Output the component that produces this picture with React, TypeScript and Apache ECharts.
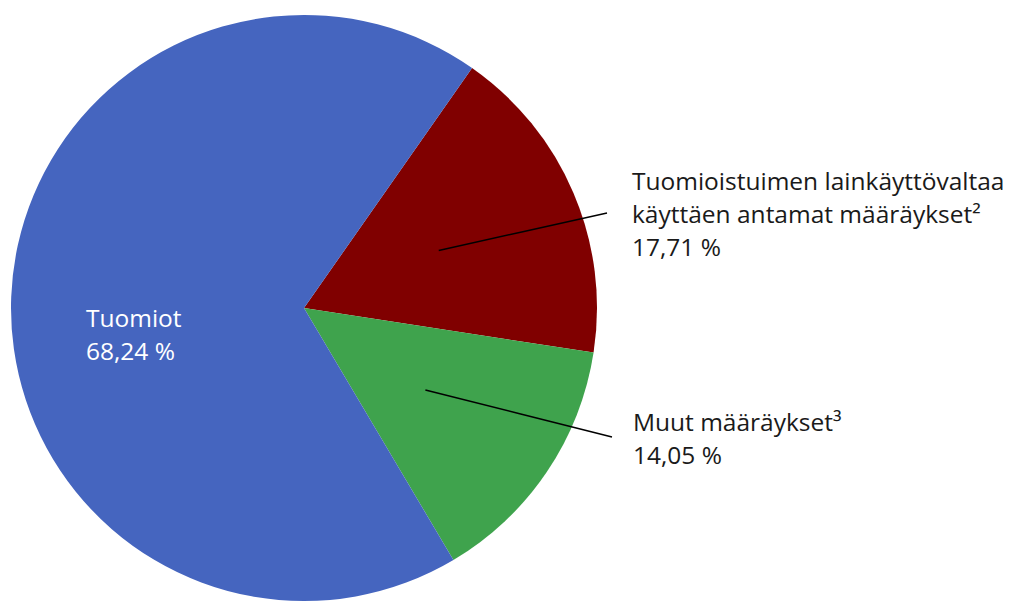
import React, { useEffect, useRef } from "react";
import * as echarts from "echarts";

const categories = [
  "Tuomioistuimen lainkäyttövaltaa\nkäyttäen antamat määräykset²",
  "Muut määräykset³",
  "Tuomiot",
];
const values = [17.71, 14.05, 68.24];
const colors = ["#800000", "#3FA34D", "#4565BF"];

const CX = 304;
const CY = 308;
const R = 293;
const START = 55;

export default function App() {
  const ref = useRef<HTMLDivElement>(null);
  useEffect(() => {
    document.body.style.margin = "0";
    const chart = echarts.init(ref.current!, null, { renderer: "svg" });
    const total = values.reduce((a, b) => a + b, 0);
    const mids: number[] = [];
    let acc = START;
    values.forEach((v) => {
      const span = (v / total) * 360;
      mids.push(acc - span / 2);
      acc -= span;
    });
    const anchors = [
      { x: 632, y: 213, end: [607, 213] },
      { x: 633, y: 438, end: [612, 437] },
      { x: 86, y: 334, end: null as any },
    ];
    const base = {
      type: "pie",
      center: [CX, CY],
      radius: R,
      startAngle: START,
      clockwise: true,
      silent: true,
    };
    chart.setOption({
      animation: false,
      series: [
        {
          ...base,
          z: 1,
          label: { show: false },
          labelLine: { show: false },
          data: categories.map((c, i) => ({
            name: c,
            value: values[i],
            itemStyle: { color: colors[i] },
          })),
        },
        {
          ...base,
          z: 5,
          data: categories.map((c, i) => ({
            name: c,
            value: values[i],
            itemStyle: { color: "rgba(0,0,0,0)" },
            label: {
              show: true,
              position: i === 2 ? "inside" : "outside",
              color: i === 2 ? "#ffffff" : "#1a1a1a",
            },
            labelLine: { show: i !== 2, lineStyle: { color: "#000", width: 1.5 } },
          })),
          label: {
            fontFamily: "Open Sans",
            fontSize: 24.5,
            lineHeight: 33,
            formatter: (p: any) =>
              p.name + "\n" + p.value.toFixed(2).replace(".", ",") + " %",
          },
          labelLayout: (p: any) => {
            const a = anchors[p.dataIndex];
            const res: any = { x: a.x, y: a.y, align: "left", verticalAlign: "middle" };
            if (a.end) {
              const ang = (mids[p.dataIndex] * Math.PI) / 180;
              const sx = CX + Math.cos(ang) * R * 0.5;
              const sy = CY - Math.sin(ang) * R * 0.5;
              res.labelLinePoints = [
                [sx, sy],
                [(sx + a.end[0]) / 2, (sy + a.end[1]) / 2],
                a.end,
              ];
            }
            return res;
          },
        },
      ],
    });
    return () => chart.dispose();
  }, []);
  return <div ref={ref} style={{ width: 1014, height: 604 }} />;
}
